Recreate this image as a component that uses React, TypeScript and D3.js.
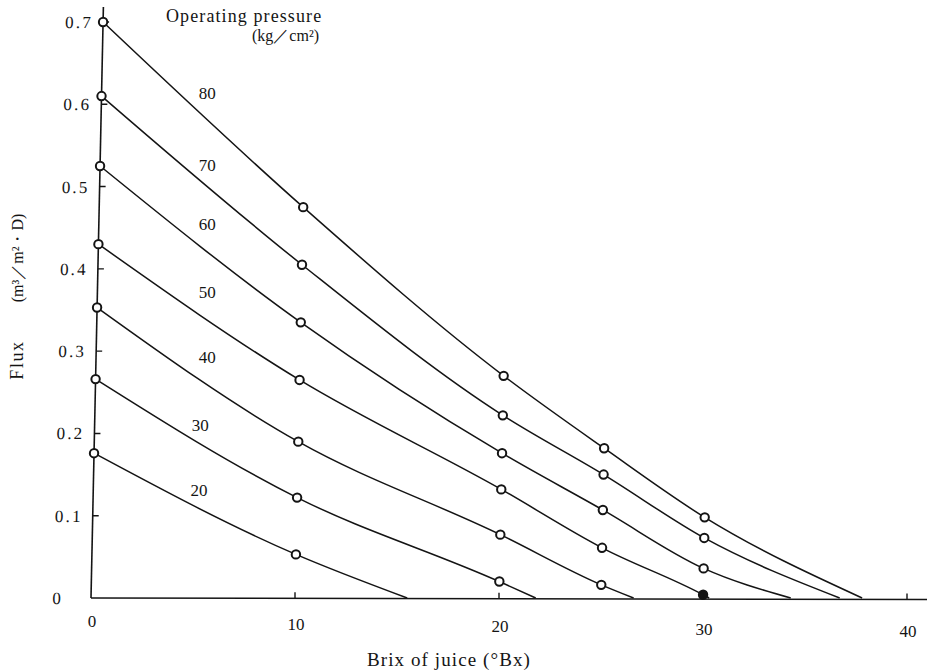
import { useRef, useEffect } from "react";
import * as d3 from "d3";

// operating pressure (kg/cm²) of each curve
const pressures = [80, 70, 60, 50, 40, 30, 20];
// brix columns where flux was measured
const brixCols = [0, 10, 20, 25, 30];
// flux (m³/m²·D) at each brix column
const flux80 = [0.7, 0.475, 0.27, 0.182, 0.098];
const flux70 = [0.61, 0.405, 0.222, 0.15, 0.073];
const flux60 = [0.525, 0.335, 0.176, 0.107, 0.036];
const flux50 = [0.43, 0.265, 0.132, 0.061, 0.004];
const flux40 = [0.353, 0.19, 0.077, 0.016];
const flux30 = [0.266, 0.122, 0.02];
const flux20 = [0.176, 0.053];
// brix where each curve reaches zero flux
const zeroBrix = [37.8, 36.7, 34.3, 30.3, 26.6, 21.8, 15.5];
// where the pressure number sits (brix, flux)
const labelBrix = [5.7, 5.7, 5.7, 5.7, 5.7, 5.35, 5.3];
const labelFlux = [0.614, 0.526, 0.455, 0.372, 0.293, 0.21, 0.131];

const yTicks = [0, 0.1, 0.2, 0.3, 0.4, 0.5, 0.6, 0.7];
const xTicks = [0, 10, 20, 30, 40];

export default function App() {
  const svgRef = useRef<SVGSVGElement>(null);

  useEffect(() => {
    if (!svgRef.current) return;
    const svg = d3.select(svgRef.current);
    svg.selectAll("*").remove();

    const ink = "#141414";
    const serif = "'Liberation Serif', 'DejaVu Serif', serif";
    const x = d3.scaleLinear().domain([0, 40]).range([91, 907]);
    const y = d3.scaleLinear().domain([0, 0.7]).range([598, 22]);
    const x0 = x(0);
    const y0 = y(0);

    const allFlux = [flux80, flux70, flux60, flux50, flux40, flux30, flux20];
    const series = pressures.map((p, i) => ({
      p,
      pts: allFlux[i].map((v, j) => ({ b: brixCols[j], v })),
      end: zeroBrix[i],
    }));

    // the scanned figure leans slightly to the right
    const plot = svg
      .append("g")
      .attr(
        "transform",
        `translate(${x0},${y0}) skewX(-1.2) translate(${-x0},${-y0})`
      );

    // axes
    plot
      .append("line")
      .attr("x1", x0)
      .attr("y1", y0)
      .attr("x2", x0)
      .attr("y2", 7)
      .attr("stroke", ink)
      .attr("stroke-width", 1.6);
    svg
      .append("line")
      .attr("x1", x0)
      .attr("y1", y0)
      .attr("x2", 927)
      .attr("y2", y0 + 1.5)
      .attr("stroke", ink)
      .attr("stroke-width", 1.6);

    plot
      .selectAll(".ytick")
      .data(yTicks.slice(1))
      .enter()
      .append("line")
      .attr("x1", x0)
      .attr("x2", x0 + 6)
      .attr("y1", (d) => y(d))
      .attr("y2", (d) => y(d))
      .attr("stroke", ink)
      .attr("stroke-width", 1.4);

    svg
      .selectAll(".xtick")
      .data(xTicks.slice(1))
      .enter()
      .append("line")
      .attr("x1", (d) => x(d))
      .attr("x2", (d) => x(d))
      .attr("y1", (d) => y0 + (x(d) - x0) * 0.0018)
      .attr("y2", (d) => y0 + (x(d) - x0) * 0.0018 - 6)
      .attr("stroke", ink)
      .attr("stroke-width", 1.4);

    plot
      .selectAll(".ylab")
      .data(yTicks)
      .enter()
      .append("text")
      .attr("x", (d) => (d === 0 ? x0 - 28 : x0 - 10))
      .attr("y", (d) => y(d))
      .attr("dy", "0.35em")
      .attr("text-anchor", "end")
      .attr("font-family", serif)
      .attr("font-size", 17)
      .attr("letter-spacing", 2.2)
      .attr("fill", ink)
      .text((d) => (d === 0 ? "0" : d3.format(".1f")(d)));

    svg
      .selectAll(".xlab")
      .data(xTicks)
      .enter()
      .append("text")
      .attr("x", (d) => x(d) + 1)
      .attr("y", (d) => 627 + d * 0.25)
      .attr("text-anchor", "middle")
      .attr("font-family", serif)
      .attr("font-size", 17)
      .attr("fill", ink)
      .text((d) => String(d));

    // curves
    const line = d3
      .line<{ b: number; v: number }>()
      .x((d) => x(d.b))
      .y((d) => y(d.v))
      .curve(d3.curveMonotoneX);

    plot
      .selectAll(".curve")
      .data(series)
      .enter()
      .append("path")
      .attr("d", (s) => line([...s.pts, { b: s.end, v: 0 }]))
      .attr("fill", "none")
      .attr("stroke", ink)
      .attr("stroke-width", 1.5);

    const points = series.flatMap((s) =>
      s.pts.map((d) => ({ ...d, filled: s.p === 50 && d.b === 30 }))
    );
    plot
      .selectAll(".pt")
      .data(points)
      .enter()
      .append("circle")
      .attr("cx", (d) => x(d.b))
      .attr("cy", (d) => y(d.v))
      .attr("r", 4.2)
      .attr("fill", (d) => (d.filled ? ink : "white"))
      .attr("stroke", ink)
      .attr("stroke-width", 2);

    // pressure labels
    svg
      .selectAll(".plab")
      .data(series)
      .enter()
      .append("text")
      .attr("x", (_, i) => x(labelBrix[i]))
      .attr("y", (_, i) => y(labelFlux[i]))
      .attr("dy", "0.35em")
      .attr("text-anchor", "middle")
      .attr("font-family", serif)
      .attr("font-size", 17)
      .attr("fill", ink)
      .text((s) => String(s.p));

    // legend title
    svg
      .append("text")
      .attr("x", 166)
      .attr("y", 22)
      .attr("font-family", serif)
      .attr("font-size", 18)
      .attr("letter-spacing", 1.1)
      .attr("fill", ink)
      .text("Operating pressure");
    svg
      .append("text")
      .attr("x", 252)
      .attr("y", 41)
      .attr("font-family", serif)
      .attr("font-size", 16)
      .attr("fill", ink)
      .text("(kg／cm²)");

    // axis titles
    svg
      .append("text")
      .attr("transform", "translate(17,360) rotate(-90)")
      .attr("text-anchor", "middle")
      .attr("dy", "0.35em")
      .attr("font-family", serif)
      .attr("font-size", 18)
      .attr("letter-spacing", 1.6)
      .attr("fill", ink)
      .text("Flux");
    svg
      .append("text")
      .attr("transform", "translate(17,258) rotate(-90)")
      .attr("text-anchor", "middle")
      .attr("dy", "0.35em")
      .attr("font-family", serif)
      .attr("font-size", 16)
      .attr("fill", ink)
      .text("(m³／m²・D)");
    svg
      .append("text")
      .attr("x", 449)
      .attr("y", 666)
      .attr("text-anchor", "middle")
      .attr("font-family", serif)
      .attr("font-size", 19)
      .attr("letter-spacing", 1.1)
      .attr("fill", ink)
      .text("Brix of juice (°Bx)");
  }, []);

  return (
    <svg
      ref={svgRef}
      width={927}
      height={672}
      style={{ position: "absolute", left: 0, top: 0, background: "white" }}
    />
  );
}
